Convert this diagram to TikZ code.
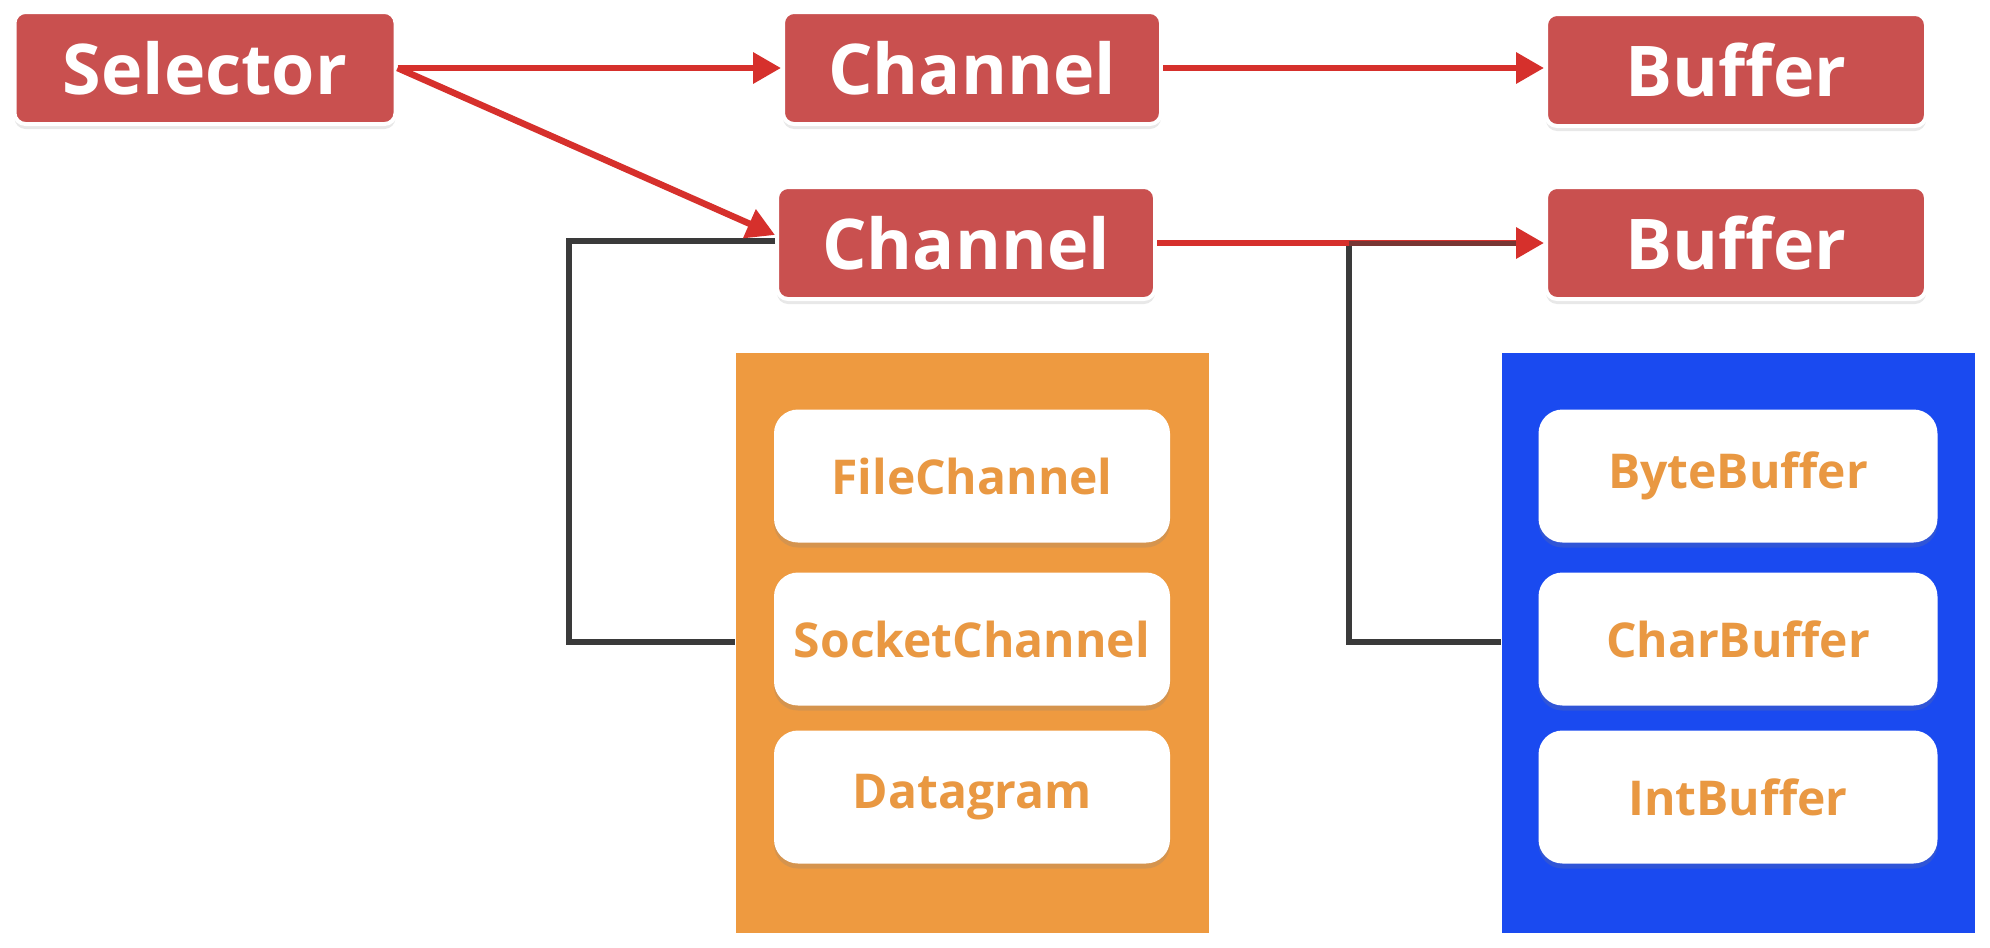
\documentclass[tikz,border=0pt]{standalone}
\usepackage{fontspec}
\setmainfont{Open Sans}
\usetikzlibrary{arrows.meta,shadows,calc}
\definecolor{boxred}{RGB}{201,80,79}
\definecolor{arrowred}{RGB}{214,48,44}
\definecolor{panelorange}{RGB}{238,154,64}
\definecolor{panelblue}{RGB}{26,74,240}
\definecolor{itemtext}{RGB}{233,152,66}
\definecolor{linkgray}{RGB}{58,58,58}
\tikzset{
  redbox/.style={draw=white, line width=4pt, fill=boxred, rounded corners=11pt,
    minimum height=112pt, text=white, font=\bfseries\fontsize{70}{78}\selectfont,
    drop shadow={opacity=0.18, shadow xshift=0pt, shadow yshift=-5pt}},
  panel/.style={draw=none, minimum width=473pt, minimum height=580pt},
  itembox/.style={draw=none, fill=white, rounded corners=24pt, minimum height=133pt,
    text=itemtext, font=\bfseries\fontsize{48}{54}\selectfont,
    drop shadow={opacity=0.22, shadow xshift=0pt, shadow yshift=-5pt}},
  flow/.style={draw=arrowred, line width=6.5pt, -{Triangle[length=28pt,width=30pt]}},
  link/.style={draw=linkgray, line width=5.5pt}
}
\begin{document}
\begin{tikzpicture}[x=1pt,y=-1pt]
\useasboundingbox[fill=white] (0,0) rectangle (1990,948);

% top row and second row
\node[redbox, minimum width=381pt] (sel) at (205,68) {Selector};
\node[redbox, minimum width=378pt] (ch1) at (972,68) {Channel};
\node[redbox, minimum width=380pt] (buf1) at (1736,70) {Buffer};
\node[redbox, minimum width=378pt] (ch2) at (966,243) {Channel};
\node[redbox, minimum width=380pt] (buf2) at (1736,243) {Buffer};

% channel implementations
\node[panel, fill=panelorange] (cpanel) at (972,643) {};
\node[itembox, minimum width=396pt] (fc) at (972,476) {FileChannel};
\node[itembox, minimum width=396pt] (sc) at (972,639) {SocketChannel};
\node[itembox, minimum width=396pt] (dg) at (972,797) {Datagram};

% buffer implementations
\node[panel, fill=panelblue] (bpanel) at (1738,643) {};
\node[itembox, minimum width=399pt] (bb) at (1738,476) {ByteBuffer};
\node[itembox, minimum width=399pt] (cb) at (1738,639) {CharBuffer};
\node[itembox, minimum width=399pt] (ib) at (1738,797) {IntBuffer};

% class hierarchy links
\coordinate (lc1) at (569,241);
\coordinate (lc2) at (569,642);
\coordinate (rc1) at (1349,243);
\coordinate (rc2) at (1349,642);
\draw[link] (ch2.west |- lc1) -- (lc1) -- (lc2) -- (lc2 -| cpanel.west);
\draw[link] (rc1) -- (rc2) -- (rc2 -| bpanel.west);

% selector / channel / buffer flow
\draw[flow] (sel.east) -- (ch1.west);
\draw[flow] (sel.east) -- ($(ch2.west)+(0,-8)$);
\draw[flow] (ch1.east) -- (buf1.west |- ch1.east);
\draw[flow] (ch2.east) -- (buf2.west);
\draw[link, draw opacity=0.6, line width=5pt] (rc1) -- ($(buf2.west)+(-28,0)$);
\end{tikzpicture}
\end{document}
